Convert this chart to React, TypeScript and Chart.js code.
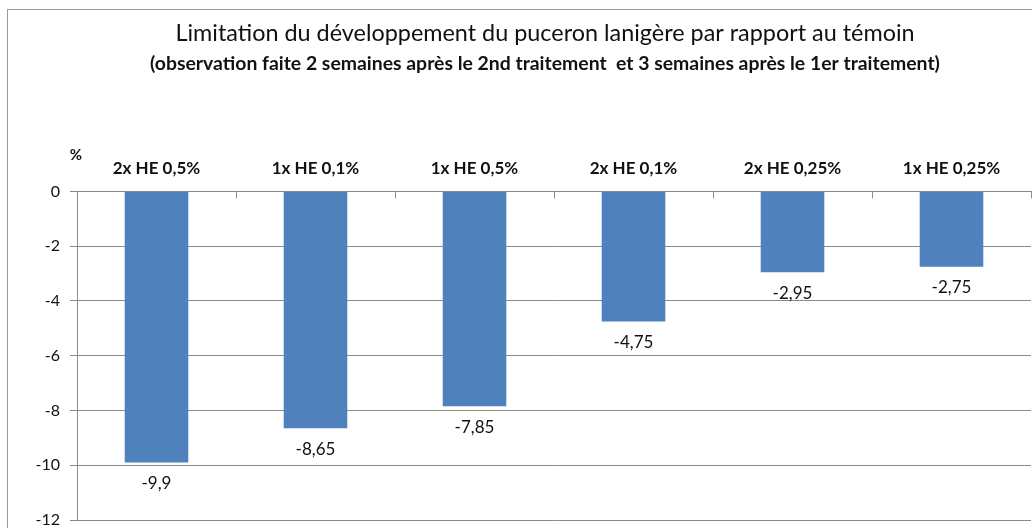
import React, { useEffect, useRef } from "react";
import { Chart, registerables } from "chart.js";

Chart.register(...registerables);

const titleText = "Limitation du développement du puceron lanigère par rapport au témoin";
const subtitleText = "(observation faite 2 semaines après le 2nd traitement  et 3 semaines après le 1er traitement)";
const categories = ["2x HE 0,5%", "1x HE 0,1%", "1x HE 0,5%", "2x HE 0,1%", "2x HE 0,25%", "1x HE 0,25%"];
const values = [-9.9, -8.65, -7.85, -4.75, -2.95, -2.75];
const valueLabels = ["-9,9", "-8,65", "-7,85", "-4,75", "-2,95", "-2,75"];
const yMin = -12;
const yMax = 0;
const yStep = 2;
const unitLabel = "%";

const FONT = "Lato, 'Liberation Sans', sans-serif";
const GRID = "#8a8a8a";

const extras = {
  id: "extras",
  afterDatasetsDraw(chart: any) {
    const ctx = chart.ctx;
    const area = chart.chartArea;
    const xs = chart.scales.x;
    ctx.save();
    // inward category tick marks on the top axis
    ctx.strokeStyle = GRID;
    ctx.lineWidth = 1;
    for (let i = 0; i < categories.length; i++) {
      const bx = Math.round((xs.getPixelForValue(i) + xs.getPixelForValue(i + 1)) / 2) + 0.5;
      ctx.beginPath();
      ctx.moveTo(bx, area.top);
      ctx.lineTo(bx, area.top + 7);
      ctx.stroke();
    }
    // value labels under the bars
    ctx.fillStyle = "#111";
    ctx.font = `17px ${FONT}`;
    ctx.textAlign = "center";
    ctx.textBaseline = "middle";
    const meta = chart.getDatasetMeta(0);
    meta.data.forEach((bar: any, i: number) => {
      ctx.fillText(valueLabels[i], bar.x, bar.y + 21);
    });
    // unit label
    ctx.font = `bold 15px ${FONT}`;
    ctx.fillText(unitLabel, area.left - 1, area.top - 36);
    ctx.restore();
  },
};

export default function App() {
  const ref = useRef<HTMLCanvasElement>(null);
  useEffect(() => {
    if (!ref.current) return;
    const chart = new Chart(ref.current, {
      type: "bar",
      data: {
        labels: categories,
        datasets: [
          {
            data: values,
            yAxisID: "y",
            backgroundColor: "#4F81BD",
            borderWidth: 0,
            barPercentage: 0.4,
            categoryPercentage: 1,
          },
        ],
      },
      options: {
        animation: false,
        responsive: false,
        layout: { padding: { left: 0, right: 0, top: 0, bottom: 50 } },
        plugins: {
          legend: { display: false },
          tooltip: { enabled: false },
          title: {
            display: true,
            text: titleText,
            color: "#111",
            font: { family: FONT, size: 23.4, weight: "normal" },
            padding: { top: 9, bottom: 2 },
          },
          subtitle: {
            display: true,
            text: subtitleText,
            color: "#111",
            font: { family: FONT, size: 19.4, weight: "bold" },
            padding: { top: 3, bottom: 0 },
          },
        },
        scales: {
          x: {
            position: "top",
            grid: { display: false },
            border: { display: true, color: GRID },
            ticks: {
              color: "#111",
              font: { family: FONT, size: 17, weight: "bold" },
              padding: 5,
              maxRotation: 0,
            },
            afterFit: (s: any) => {
              s.height = 116;
            },
          },
          y: {
            position: "left",
            min: yMin,
            max: yMax,
            grid: { color: GRID, tickLength: 7 },
            border: { display: true, color: GRID },
            ticks: {
              stepSize: yStep,
              color: "#111",
              font: { family: FONT, size: 16 },
              padding: 10,
            },
            afterFit: (s: any) => {
              s.width = 69;
            },
          },
          yRight: {
            position: "right",
            display: true,
            grid: { display: false },
            border: { display: false },
            ticks: { display: false },
            afterFit: (s: any) => {
              s.width = 51;
            },
          },
        },
      },
      plugins: [extras],
    });
    return () => chart.destroy();
  }, []);

  return (
    <div
      style={{
        position: "absolute",
        left: 0,
        top: 0,
        width: 1032,
        height: 528,
        overflow: "hidden",
        background: "#fff",
      }}
    >
      <div
        style={{
          position: "absolute",
          left: 7,
          top: 9,
          width: 1074,
          height: 560,
          border: "1px solid #9a9a9a",
        }}
      >
        <canvas ref={ref} width={1074} height={560} style={{ display: "block" }} />
      </div>
    </div>
  );
}
